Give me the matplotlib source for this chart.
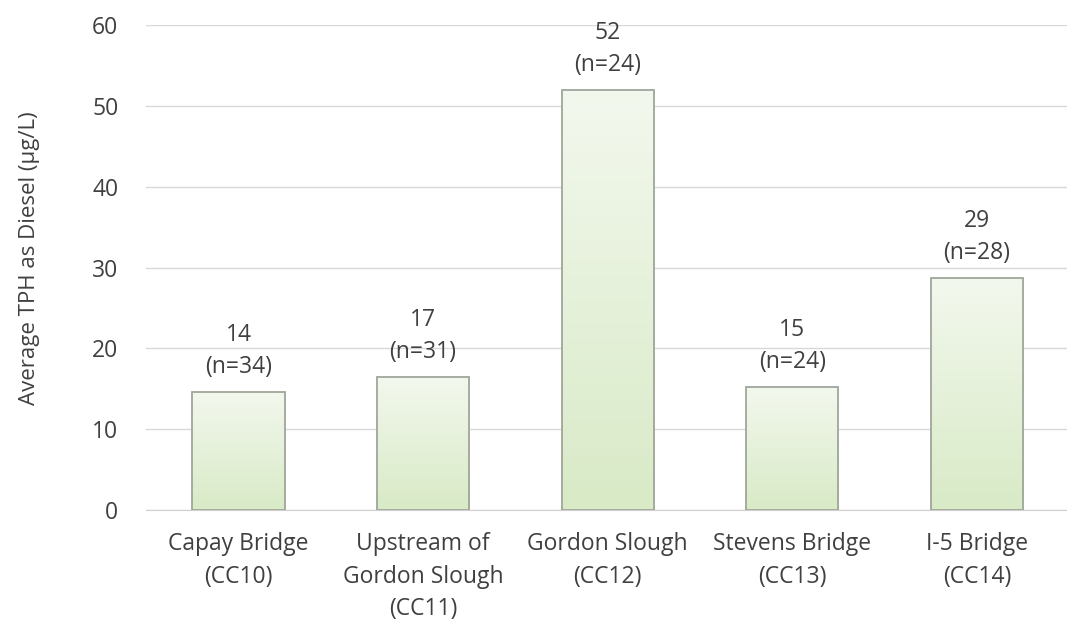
import numpy as np
import matplotlib.pyplot as plt
from matplotlib.colors import LinearSegmentedColormap

plt.rcParams['font.family'] = ['Open Sans', 'DejaVu Sans']

## Data
sites = ['Capay Bridge\n(CC10)', 'Upstream of\nGordon Slough\n(CC11)', 'Gordon Slough\n(CC12)',
         'Stevens Bridge\n(CC13)', 'I-5 Bridge\n(CC14)']
tph = [14.6, 16.5, 52.0, 15.2, 28.7]
labels = ['14', '17', '52', '15', '29']
n_samples = [34, 31, 24, 24, 28]

text_col = '#404040'
fs = 16.5

fig = plt.figure(figsize=(10.67, 6.26), dpi=100)
ax = fig.add_axes([0.137, 0.185, 0.865, 0.775])

x = np.arange(len(sites))
bars = ax.bar(x, tph, width=0.5, color='none', edgecolor='#a0a69a', linewidth=1.3, zorder=3)

# vertical gradient inside bars (darker green at the bottom)
grad = np.linspace(0, 1, 256).reshape(-1, 1)
cmap = LinearSegmentedColormap.from_list('g', ['#d8eac6', '#f3f8ee'])
for b in bars:
    x0, y0 = b.get_x(), b.get_y()
    w, h = b.get_width(), b.get_height()
    im = ax.imshow(grad, extent=[x0, x0 + w, y0, y0 + h], origin='lower', aspect='auto',
                   cmap=cmap, zorder=2)
    im.set_clip_path(b)

for xi, v, lab, n in zip(x, tph, labels, n_samples):
    ax.text(xi, v + 1.6, f'{lab}\n(n={n})', ha='center', va='bottom', fontsize=fs,
            color=text_col, linespacing=1.45)

ax.set_xlim(-0.5, 4.5)
ax.set_ylim(0, 60)
ax.set_yticks(range(0, 61, 10))
ax.set_xticks(x)
ax.set_xticklabels(sites, fontsize=fs, color=text_col, linespacing=1.45)
ax.tick_params(axis='y', labelsize=fs, colors=text_col, length=0, pad=20)
ax.tick_params(axis='x', length=0, pad=16)
ax.yaxis.grid(True, color='#d9d9d9', linewidth=1, zorder=0)
ax.set_axisbelow(True)
for s in ['top', 'right', 'left']:
    ax.spines[s].set_visible(False)
ax.spines['bottom'].set_color('#d0d0d0')
ax.set_ylabel('Average TPH as Diesel (µg/L)', fontsize=16, color=text_col)
ax.yaxis.set_label_coords(-0.115, 0.52)

fig.savefig('out.png', dpi=100)
